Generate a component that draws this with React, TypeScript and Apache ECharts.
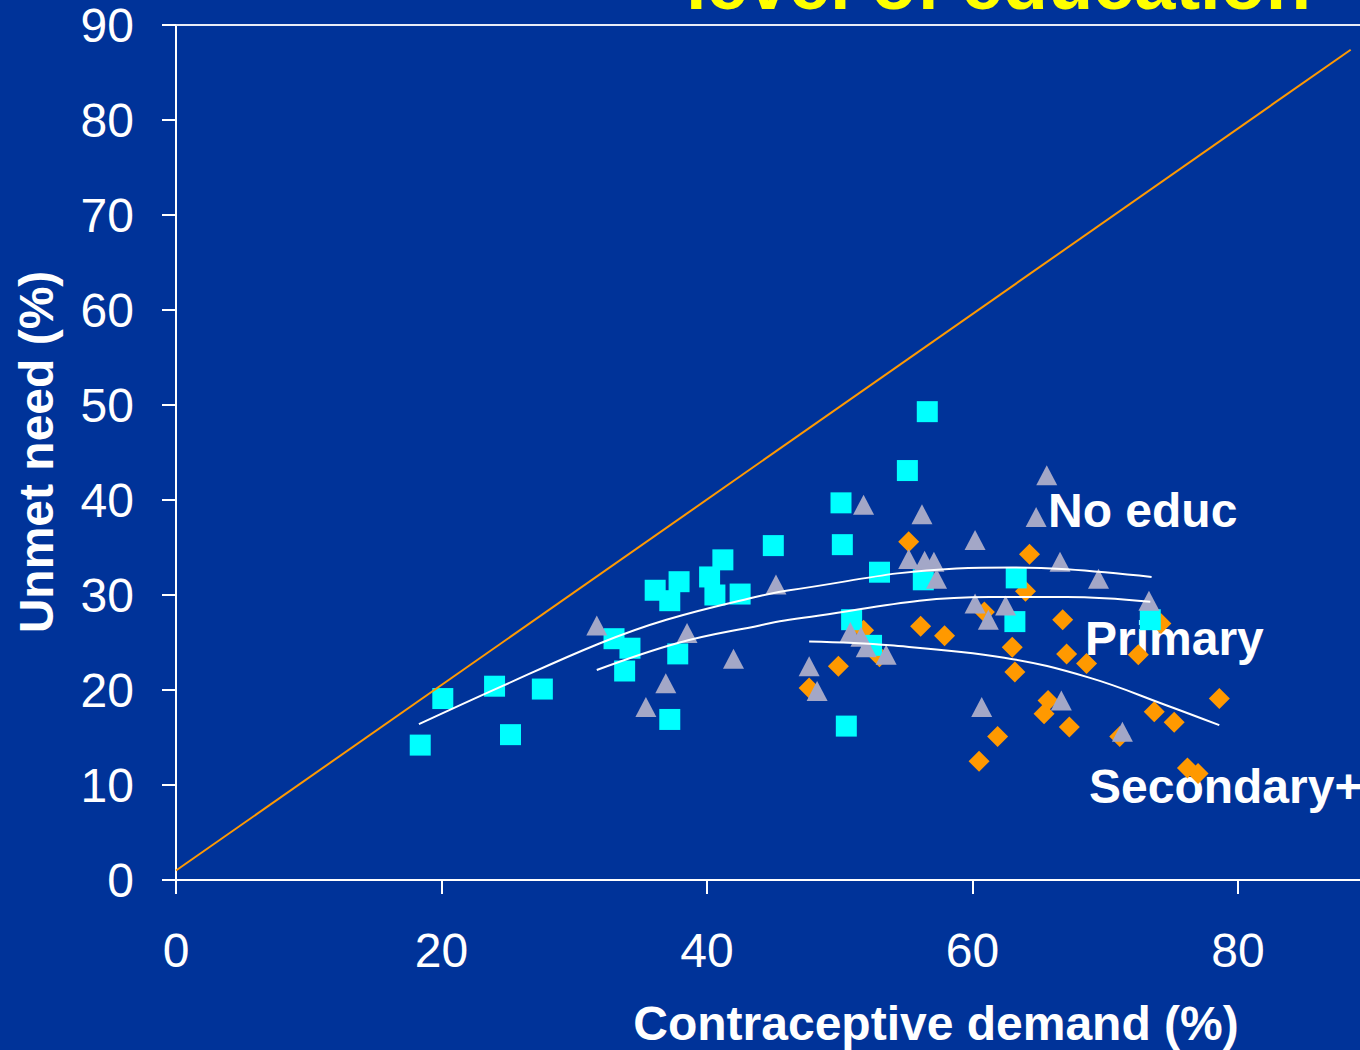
import React, { useEffect, useRef } from "react";
import * as echarts from "echarts";

// ---- Data ----
const xTicks = [0, 20, 40, 60, 80];
const yTicks = [0, 10, 20, 30, 40, 50, 60, 70, 80, 90];
const xMax = 89.2;

const noEducPoints: [number, number][] = [
  [18.4, 14.2], [20.1, 19.1], [24.0, 20.4], [25.2, 15.3], [27.6, 20.1],
  [33.0, 25.4], [34.2, 24.4], [33.8, 22.0], [36.1, 30.5], [37.2, 29.4],
  [37.9, 31.4], [37.8, 23.8], [37.2, 16.9], [40.2, 31.9], [40.6, 30.0],
  [41.2, 33.7], [42.5, 30.1], [45.0, 35.2], [50.1, 39.7], [50.2, 35.3],
  [50.9, 27.4], [50.5, 16.2], [52.4, 24.7], [53.0, 32.4], [55.1, 43.1],
  [56.6, 49.3], [56.3, 31.6], [63.3, 31.8], [63.2, 27.2], [73.4, 27.4],
];

const primaryPoints: [number, number][] = [
  [31.7, 26.8], [38.5, 26.0], [42.0, 23.3], [36.9, 20.7], [35.4, 18.2],
  [45.2, 31.1], [51.8, 39.5], [56.2, 38.5], [55.2, 33.8], [56.4, 33.6],
  [57.1, 33.5], [57.3, 31.7], [60.2, 35.8], [60.2, 29.1], [61.2, 27.4],
  [62.5, 28.9], [65.6, 42.6], [64.8, 38.2], [66.6, 33.5], [69.5, 31.7],
  [73.3, 29.4], [50.8, 26.1], [51.6, 25.6], [52.0, 24.5], [53.5, 23.7],
  [47.7, 22.5], [48.3, 19.9], [60.7, 18.2], [66.7, 18.9], [71.3, 15.6],
];

const secondaryPoints: [number, number][] = [
  [55.2, 35.6], [64.3, 34.3], [64.0, 30.4], [66.8, 27.4], [56.1, 26.7],
  [57.9, 25.7], [60.9, 28.2], [63.0, 24.5], [63.2, 21.9], [67.1, 23.8],
  [68.6, 22.8], [49.9, 22.5], [47.7, 20.2], [51.8, 26.3], [53.0, 23.5],
  [74.2, 27.0], [72.5, 23.7], [78.6, 19.1], [73.7, 17.7], [75.2, 16.6],
  [65.7, 18.9], [65.4, 17.5], [67.3, 16.1], [61.9, 15.1], [60.5, 12.5],
  [71.1, 15.1], [76.2, 11.8], [77.0, 11.2],
];

const noEducTrend: [number, number][] = [
  [18.3, 16.4], [24.4, 20.3], [31.9, 24.9], [36.95, 27.4], [43.98, 29.9],
  [46.2, 30.5], [58.8, 32.8], [63.0, 32.9], [67.1, 32.7], [73.5, 31.9],
];
const primaryTrend: [number, number][] = [
  [31.7, 22.1], [37.95, 25.0], [43.98, 26.8], [46.2, 27.4], [61.3, 29.8],
  [67.1, 29.8], [73.4, 29.3],
];
const secondaryTrend: [number, number][] = [
  [47.7, 25.1], [53.8, 24.7], [62.4, 23.4], [68.8, 21.3], [74.6, 18.4],
  [78.6, 16.3],
];
const equalityLine: [number, number][] = [
  [0, 1.0], [88.5, 87.4],
];

const groupLabels = ["No educ", "Primary", "Secondary+"];
const titleText = "level of education";
const xTitle = "Contraceptive demand (%)";
const yTitle = "Unmet need (%)";

const BG = "#003399";
const FONT = "'Liberation Sans', Arial, sans-serif";

export default function App() {
  const ref = useRef<HTMLDivElement>(null);

  useEffect(() => {
    document.body.style.margin = "0";
    if (!ref.current) return;
    const chart = echarts.init(ref.current, undefined, { renderer: "svg" });

    const axisLineStyle = { color: "#FFFFFF", width: 2 };

    const option: any = {
      animation: false,
      backgroundColor: BG,
      grid: {
        left: 176,
        top: 25,
        right: 0,
        bottom: 170,
        show: false,
      },
      xAxis: [
        {
          type: "value",
          min: xTicks[0],
          max: xMax,
          interval: 20,
          axisLine: { show: true, lineStyle: axisLineStyle },
          axisTick: { show: true, inside: false, length: 14, lineStyle: axisLineStyle },
          splitLine: { show: false },
          axisLabel: {
            color: "#FFFFFF",
            fontSize: 48,
            fontFamily: FONT,
            margin: 46,
            showMaxLabel: false,
            formatter: (v: number) => (xTicks.includes(v) ? String(v) : ""),
          },
        },
        {
          type: "value",
          position: "top",
          min: xTicks[0],
          max: xMax,
          interval: 20,
          axisLine: { show: true, lineStyle: { color: "#E8ECF6", width: 2 } },
          axisTick: { show: false },
          axisLabel: { show: false },
          splitLine: { show: false },
        },
      ],
      yAxis: {
        type: "value",
        min: yTicks[0],
        max: yTicks[yTicks.length - 1],
        interval: 10,
        axisLine: { show: true, lineStyle: axisLineStyle },
        axisTick: { show: true, inside: false, length: 14, lineStyle: axisLineStyle },
        splitLine: { show: false },
        axisLabel: {
          color: "#FFFFFF",
          fontSize: 48,
          fontFamily: FONT,
          margin: 42,
        },
      },
      series: [
        {
          name: groupLabels[2],
          type: "scatter",
          data: secondaryPoints,
          symbol: "diamond",
          symbolSize: 21,
          itemStyle: { color: "#FF9900", opacity: 1 },
        },
        {
          name: groupLabels[0],
          type: "scatter",
          data: noEducPoints,
          symbol: "rect",
          symbolSize: 21,
          itemStyle: { color: "#00FFFF", opacity: 1 },
        },
        {
          name: groupLabels[1],
          type: "scatter",
          data: primaryPoints,
          symbol: "triangle",
          symbolSize: [21, 20],
          itemStyle: { color: "#A3A7C7", opacity: 1 },
        },
        {
          type: "line",
          data: equalityLine,
          symbol: "none",
          lineStyle: { color: "#FF9900", width: 2 },
        },
        {
          type: "line",
          data: noEducTrend,
          symbol: "none",
          smooth: 0.4,
          lineStyle: { color: "#FFFFFF", width: 2 },
        },
        {
          type: "line",
          data: primaryTrend,
          symbol: "none",
          smooth: 0.4,
          lineStyle: { color: "#FFFFFF", width: 2 },
        },
        {
          type: "line",
          data: secondaryTrend,
          symbol: "none",
          smooth: 0.4,
          lineStyle: { color: "#FFFFFF", width: 2 },
        },
      ],
      graphic: [
        {
          type: "text",
          x: 686,
          y: -17,
          style: {
            text: titleText,
            fill: "#FFFF00",
            font: `bold 74px ${FONT}`,
            textAlign: "left",
            textVerticalAlign: "middle",
          },
        },
        {
          type: "text",
          x: 1048,
          y: 510,
          style: {
            text: groupLabels[0],
            fill: "#FFFFFF",
            font: `bold 48px ${FONT}`,
            textAlign: "left",
            textVerticalAlign: "middle",
          },
        },
        {
          type: "text",
          x: 1085,
          y: 638,
          style: {
            text: groupLabels[1],
            fill: "#FFFFFF",
            font: `bold 48px ${FONT}`,
            textAlign: "left",
            textVerticalAlign: "middle",
          },
        },
        {
          type: "text",
          x: 1089,
          y: 786,
          style: {
            text: groupLabels[2],
            fill: "#FFFFFF",
            font: `bold 48px ${FONT}`,
            textAlign: "left",
            textVerticalAlign: "middle",
          },
        },
        {
          type: "text",
          x: 936,
          y: 1023,
          style: {
            text: xTitle,
            fill: "#FFFFFF",
            font: `bold 48px ${FONT}`,
            textAlign: "center",
            textVerticalAlign: "middle",
          },
        },
        {
          type: "text",
          x: 36,
          y: 452,
          rotation: Math.PI / 2,
          style: {
            text: yTitle,
            fill: "#FFFFFF",
            font: `bold 48px ${FONT}`,
            textAlign: "center",
            textVerticalAlign: "middle",
          },
        },
      ],
    };

    chart.setOption(option);
    return () => {
      chart.dispose();
    };
  }, []);

  return (
    <div
      ref={ref}
      style={{ position: "absolute", left: 0, top: 0, width: 1360, height: 1050, overflow: "hidden" }}
    />
  );
}
